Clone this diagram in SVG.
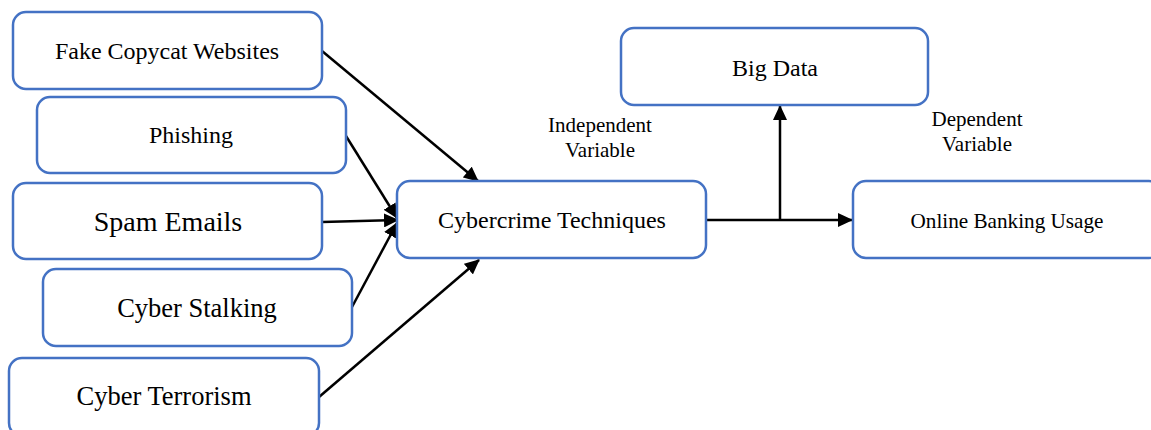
<svg xmlns="http://www.w3.org/2000/svg" width="1151" height="430" viewBox="0 0 1151 430">
<defs>
<style>
.box{fill:#ffffff;stroke:#4472C4;stroke-width:2.5}
.t{font-family:"Liberation Serif","Times New Roman",serif;fill:#000;text-anchor:middle}
.c{stroke:#000;stroke-width:2.5;fill:none}
</style>
<marker id="ah" markerWidth="15" markerHeight="14" refX="14" refY="7" orient="auto" markerUnits="userSpaceOnUse" viewBox="0 0 15 14">
<path d="M0,0 L15,7 L0,14 z" fill="#000"/>
</marker>
</defs>
<rect width="1151" height="430" fill="#fff"/>
<g id="connectors">
<line class="c" x1="322" y1="51" x2="478" y2="181" marker-end="url(#ah)"/>
<line class="c" x1="346" y1="136" x2="397" y2="218" marker-end="url(#ah)"/>
<line class="c" x1="322" y1="222" x2="398" y2="220" marker-end="url(#ah)"/>
<line class="c" x1="352" y1="307" x2="397" y2="223" marker-end="url(#ah)"/>
<line class="c" x1="319" y1="397" x2="479" y2="260" marker-end="url(#ah)"/>
<line class="c" x1="706" y1="220" x2="852" y2="220" marker-end="url(#ah)"/>
<line class="c" x1="780" y1="220" x2="780" y2="106" marker-end="url(#ah)"/>
</g>
<g id="fake">
<rect class="box" x="13" y="12" width="309" height="77" rx="13"/>
<text class="t" x="167" y="59" font-size="24">Fake Copycat Websites</text>
</g>
<g id="phishing">
<rect class="box" x="37" y="97" width="309" height="76" rx="13"/>
<text class="t" x="191" y="143" font-size="24">Phishing</text>
</g>
<g id="spam">
<rect class="box" x="13" y="183" width="309" height="76" rx="13"/>
<text class="t" x="168" y="231" font-size="28">Spam Emails</text>
</g>
<g id="stalking">
<rect class="box" x="43" y="269" width="309" height="77" rx="13"/>
<text class="t" x="197" y="317" font-size="26.5">Cyber Stalking</text>
</g>
<g id="terrorism">
<rect class="box" x="9" y="358" width="310" height="78" rx="13"/>
<text class="t" x="164" y="405" font-size="26.5">Cyber Terrorism</text>
</g>
<g id="cybercrime">
<rect class="box" x="397" y="181" width="309" height="77" rx="13"/>
<text class="t" x="552" y="228" font-size="24">Cybercrime Techniques</text>
</g>
<g id="bigdata">
<rect class="box" x="621" y="28" width="307" height="77" rx="13"/>
<text class="t" x="775" y="76" font-size="24">Big Data</text>
</g>
<g id="online">
<rect class="box" x="853" y="181" width="309" height="77" rx="13"/>
<text class="t" x="1007" y="228" font-size="21.2">Online Banking Usage</text>
</g>
<g id="independent-label">
<text class="t" x="600" y="132" font-size="21">Independent</text>
<text class="t" x="600" y="157" font-size="21">Variable</text>
</g>
<g id="dependent-label">
<text class="t" x="977" y="126" font-size="21">Dependent</text>
<text class="t" x="977" y="151" font-size="21">Variable</text>
</g>
</svg>
